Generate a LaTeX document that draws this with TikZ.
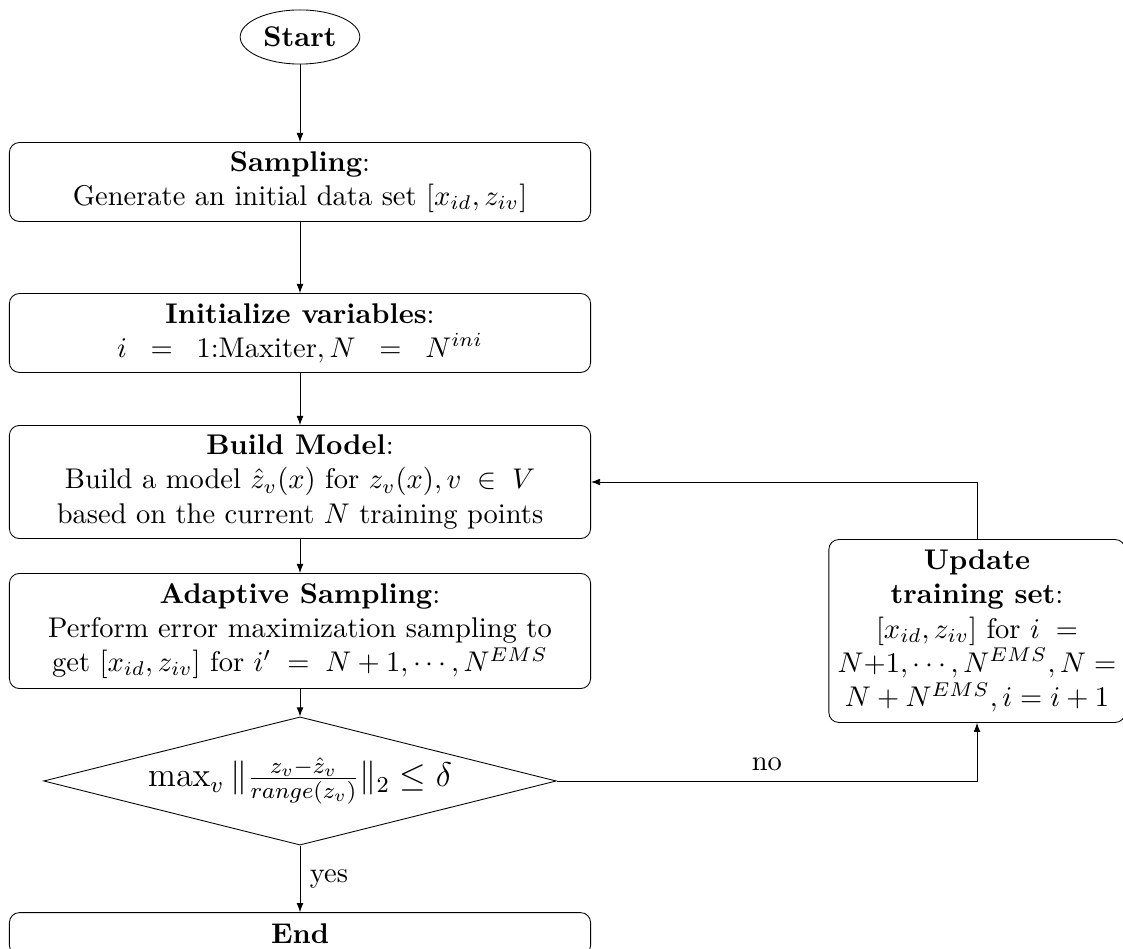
\documentclass[tikz,border=0pt]{standalone}
\usetikzlibrary{shapes.geometric,arrows.meta}
\begin{document}
\begin{tikzpicture}[x=0.351pt,y=-0.351pt,
  >={Latex[length=3.2pt,width=2.4pt]},
  every path/.style={line width=0.3pt},
  box/.style={draw, rounded corners=3.5pt, align=center, minimum width=204pt, inner sep=2pt},
  term/.style={draw, ellipse, minimum width=42pt, minimum height=19pt, inner sep=1pt},
  decision/.style={draw, diamond, aspect=4, minimum width=180pt, minimum height=45pt, inner sep=0pt},
  lbl/.style={font=\normalsize}]
\useasboundingbox (0,0) rectangle (1123,949);

\node[term] (start) at (300,37) {\textbf{Start}};
\node[box, minimum height=27.7pt] (samp) at (300,182)
  {\textbf{Sampling}:\\ Generate an initial data set $[x_{id}, z_{iv}]$};
\node[box, minimum height=27.7pt] (init) at (300,333)
  {\textbf{Initialize variables}:\\ $i\;\;=\;\;1$:Maxiter$,N\;\;=\;\;N^{ini}$};
\node[box, minimum height=39.7pt] (build) at (300,482)
  {\textbf{Build Model}:\\ Build a model $\hat{z}_v(x)$ for $z_v(x), v\;\in\;V$\\ based on the current $N$ training points};
\node[box, minimum height=40.4pt] (adapt) at (300,631)
  {\textbf{Adaptive Sampling}:\\ Perform error maximization sampling to\\ get $[x_{id}, z_{iv}]$ for $i'\;=\;N+1,\cdots,N^{EMS}$};
\node[decision] (dec) at (300,781)
  {\large$\max_v \|\frac{z_v-\hat{z}_v}{range(z_v)}\|_2 \le \delta$};
\node[box, minimum height=15pt] (end) at (300,934) {\textbf{End}};
\node[box, minimum width=104pt, minimum height=64.2pt] (upd) at (977,631)
  {\textbf{Update}\\ \textbf{training set}:\\ $[x_{id}, z_{iv}]$ for $i\;=$\\ $N{+}1,\cdots,N^{EMS},N=$\\ $N+N^{EMS},i=i+1$};

\draw[->] (start) -- (samp);
\draw[->] (samp) -- (init);
\draw[->] (init) -- (build);
\draw[->] (build) -- (adapt);
\draw[->] (adapt) -- (dec);
\draw[->] (dec) -- node[lbl, right] {yes} (end);
\draw[->] (dec.east) -| node[lbl, pos=0.25, above] {no} (upd.south);
\draw[->] (upd.north) |- (build.east);
\end{tikzpicture}
\end{document}
